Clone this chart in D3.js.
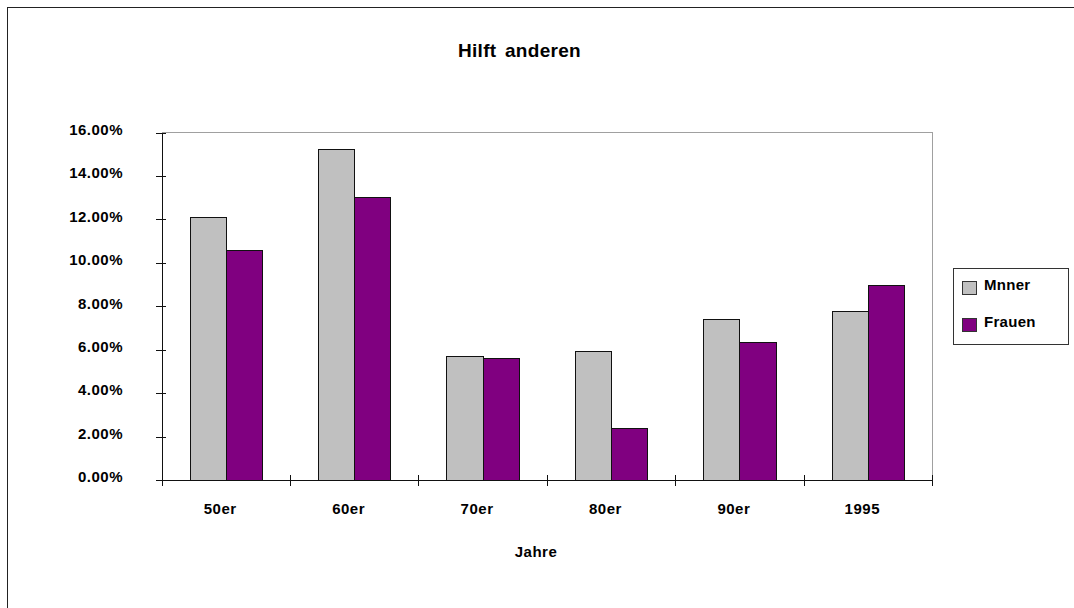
<!DOCTYPE html>
<html>
<head>
<meta charset="utf-8">
<script src="https://cdn.jsdelivr.net/npm/d3@7"></script>
<style>
  html, body { margin: 0; padding: 0; background: #fff; }
  svg { display: block; font-family: "Liberation Sans", Arial, sans-serif; }
</style>
</head>
<body>
<svg id="chart" width="1074" height="608"></svg>
<script>
// Anteil "Hilft anderen" nach Jahrzehnt, in Prozent
const categories = ["50er", "60er", "70er", "80er", "90er", "1995"];
const maenner = [12.1, 15.2, 5.7, 5.9, 7.4, 7.78];
const frauen = [10.57, 13.0, 5.61, 2.35, 6.35, 8.95];
const seriesNames = ["Mnner", "Frauen"];
const yTicks = [0, 2, 4, 6, 8, 10, 12, 14, 16];

const colors = ["#C0C0C0", "#800080"];
const svg = d3.select("#chart");

// outer chart frame
svg.append("rect")
  .attr("x", 7.5).attr("y", 7.5)
  .attr("width", 1200).attr("height", 800)
  .attr("fill", "none").attr("stroke", "#222").attr("stroke-width", 1);

const plot = { left: 162, right: 932.5, top: 132.5, bottom: 480 };

const x0 = d3.scaleBand().domain(categories).range([plot.left, plot.right]).padding(0);
const groupW = x0.bandwidth() * 2 / 3.55;
const x1 = d3.scaleBand().domain(d3.range(seriesNames.length)).range([0, groupW]).padding(0);
const y = d3.scaleLinear().domain([0, 16]).range([plot.bottom, plot.top]);

// plot area frame: top and right edges in grey
svg.append("path")
  .attr("d", `M${plot.left},${plot.top}H${plot.right}V${plot.bottom}`)
  .attr("fill", "none").attr("stroke", "#a0a0a0").attr("stroke-width", 1)
  .attr("shape-rendering", "crispEdges");

// bars
const data = categories.map((c, i) => ({ c, vals: [maenner[i], frauen[i]] }));
const groups = svg.append("g").selectAll("g").data(data).join("g")
  .attr("transform", d => `translate(${x0(d.c) + (x0.bandwidth() - groupW) / 2},0)`);
groups.selectAll("rect").data(d => d.vals.map((v, k) => ({ v, k }))).join("rect")
  .attr("x", d => x1(d.k))
  .attr("width", x1.bandwidth())
  .attr("y", d => y(d.v))
  .attr("height", d => y(0) - y(d.v))
  .attr("fill", d => colors[d.k])
  .attr("stroke", "#111").attr("stroke-width", 1)
  .attr("shape-rendering", "crispEdges");

// y axis
const yAxis = d3.axisLeft(y).tickValues(yTicks).tickSize(6).tickPadding(0)
  .tickFormat(d => d3.format(".2f")(d) + "%");
const gy = svg.append("g").attr("transform", `translate(${plot.left},0)`).call(yAxis);
gy.select(".domain").attr("stroke", "#111").attr("shape-rendering", "crispEdges");
gy.selectAll(".tick line").attr("x2", -6).attr("x1", 4).attr("stroke", "#111")
  .attr("shape-rendering", "crispEdges");
gy.selectAll(".tick text")
  .attr("x", -39).attr("dy", "0.12em")
  .attr("font-family", "Liberation Sans, Arial, sans-serif")
  .attr("font-size", 15).attr("font-weight", "bold").attr("letter-spacing", 0.5)
  .attr("fill", "#000");

// x axis with ticks between categories
const xAxis = d3.axisBottom(x0).tickSize(0).tickPadding(0);
const gx = svg.append("g").attr("transform", `translate(0,${plot.bottom})`).call(xAxis);
gx.select(".domain").attr("stroke", "#111").attr("shape-rendering", "crispEdges");
gx.selectAll(".tick text")
  .attr("x", -6).attr("y", 34).attr("dy", 0)
  .attr("font-family", "Liberation Sans, Arial, sans-serif")
  .attr("font-size", 15).attr("font-weight", "bold").attr("letter-spacing", 0.5)
  .attr("fill", "#000");
const bounds = categories.map(c => x0(c)).concat([plot.right]);
gx.selectAll(".sep").data(bounds).join("line")
  .attr("class", "sep")
  .attr("x1", d => d).attr("x2", d => d)
  .attr("y1", -5).attr("y2", 6)
  .attr("stroke", "#111").attr("shape-rendering", "crispEdges");

// title and axis title
svg.append("text").attr("x", 519.5).attr("y", 57).attr("text-anchor", "middle")
  .attr("font-size", 19).attr("font-weight", "bold").attr("word-spacing", 3)
  .attr("letter-spacing", 0.3).text("Hilft anderen");
svg.append("text").attr("x", 536).attr("y", 557).attr("text-anchor", "middle")
  .attr("font-size", 15).attr("font-weight", "bold").attr("letter-spacing", 0.5)
  .text("Jahre");

// legend
const legend = svg.append("g");
legend.append("rect")
  .attr("x", 953.5).attr("y", 268.5).attr("width", 115).attr("height", 76)
  .attr("fill", "#fff").attr("stroke", "#333").attr("stroke-width", 1)
  .attr("shape-rendering", "crispEdges");
const items = legend.selectAll("g").data(seriesNames).join("g")
  .attr("transform", (d, i) => `translate(962.5,${281.5 + i * 37})`);
items.append("rect").attr("width", 14).attr("height", 13)
  .attr("fill", (d, i) => colors[i]).attr("stroke", "#333")
  .attr("shape-rendering", "crispEdges");
items.append("text").attr("x", 21.5).attr("y", 8)
  .attr("font-size", 15).attr("font-weight", "bold").attr("letter-spacing", 0.3)
  .text(d => d);
</script>
</body>
</html>
